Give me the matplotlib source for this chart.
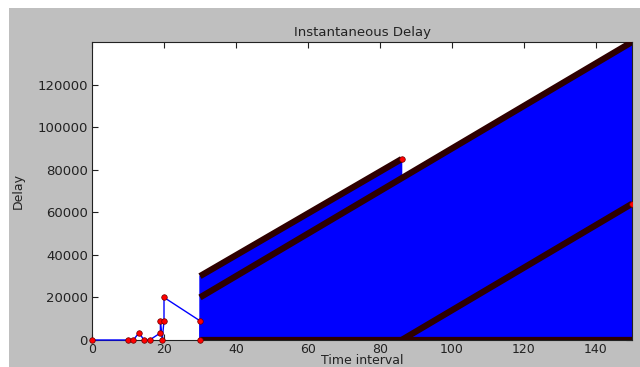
import matplotlib
matplotlib.use("Agg")
import matplotlib.pyplot as plt
from matplotlib.patches import Rectangle

# early sparse samples (time, delay)
early_t = [0, 10, 11.5, 13, 14.5, 16, 19, 19, 19.5, 20, 20, 30, 30]
early_d = [0, 0, 0, 3300, 0, 0, 3300, 9000, 0, 9000, 20000, 9000, 0]

# dense region envelope (filled by rapidly alternating samples)
env_t = [30, 30, 86, 86, 150, 150]
env_d = [0, 30000, 85000, 76000, 140000, 0]

# straight delay streaks (start/end points)
streak_upper_t = [30, 86]
streak_upper_d = [30000, 85000]
streak_mid_t = [30, 150]
streak_mid_d = [20000, 140000]
streak_low_t = [86, 150]
streak_low_d = [0, 64000]
streak_zero_t = [30, 150]
streak_zero_d = [0, 0]

fig = plt.figure(figsize=(6.4, 3.67), dpi=100, facecolor="white")
fig.patches.append(Rectangle((9/640, 0), 1, (367-8)/367, transform=fig.transFigure,
                             facecolor="#bfbfbf", edgecolor="none", zorder=-10))
ax = fig.add_axes([92/640, 27/367, 540/640, 298/367])
ax.set_facecolor("white")

ax.fill(env_t, env_d, color="#0000ff", lw=1, zorder=2)
dark = "#2e0000"
for tt, dd in [(streak_upper_t, streak_upper_d), (streak_mid_t, streak_mid_d),
               (streak_low_t, streak_low_d), (streak_zero_t, streak_zero_d)]:
    ax.plot(tt, dd, color=dark, lw=4.5, solid_capstyle="butt", zorder=3, clip_on=True)

ax.plot(early_t, early_d, color="#0000ff", lw=1, marker="o", ms=4,
        mfc="red", mec="#660000", mew=0.5, zorder=4, clip_on=False)
ax.plot([86, 150], [85000, 64000], ls="none", marker="o", ms=4,
        mfc="red", mec="#660000", mew=0.5, zorder=5)

ax.set_xlim(0, 150)
ax.set_ylim(0, 140000)
ax.set_xticks([0, 20, 40, 60, 80, 100, 120, 140])
ax.set_yticks([0, 20000, 40000, 60000, 80000, 100000, 120000])
ax.tick_params(direction="in", top=True, right=True, labelsize=9.5, colors="#222222",
               length=4, pad=3)
ax.tick_params(axis="x", pad=2, labelsize=9)
for s in ax.spines.values():
    s.set_color("#222222")
ax.set_title("Instantaneous Delay", fontsize=9.5, color="#222222", pad=4)
ax.set_xlabel("Time interval", fontsize=9, color="#222222", labelpad=-1)
ax.set_ylabel("Delay", fontsize=9, color="#222222", labelpad=9)

fig.savefig("out.png", dpi=100, facecolor=fig.get_facecolor())
